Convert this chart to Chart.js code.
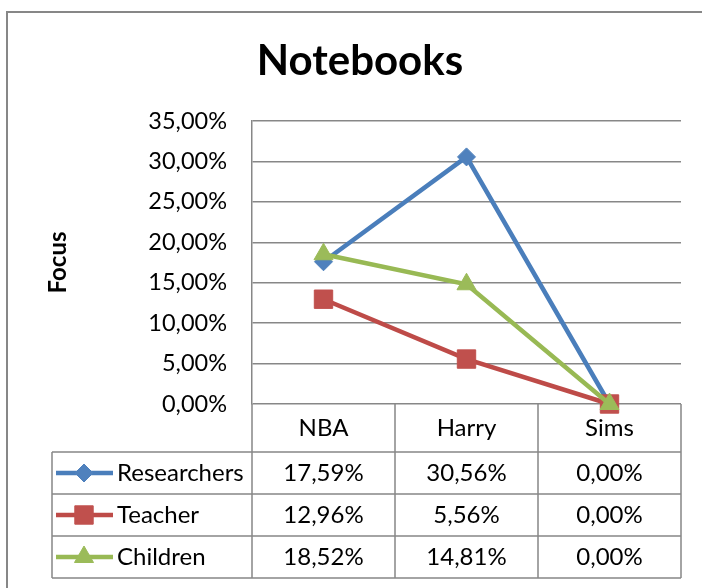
<!DOCTYPE html>
<html>
<head>
<meta charset="utf-8">
<script src="https://cdn.jsdelivr.net/npm/chart.js@4/dist/chart.umd.min.js"></script>
<style>
  html, body { margin: 0; padding: 0; background: #fff; }
  #wrap { width: 702px; height: 588px; }
</style>
</head>
<body>
<div id="wrap"><canvas id="myChart"></canvas></div>
<script>
const categories = ["NBA", "Harry", "Sims"];
const seriesNames = ["Researchers", "Teacher", "Children"];
const researchers = [0.1759, 0.3056, 0.0];
const teacher = [0.1296, 0.0556, 0.0];
const children = [0.1852, 0.1481, 0.0];
const yMin = 0;
const yMax = 0.35;
const yStep = 0.05;

const FONT = 'Lato, "Liberation Sans", sans-serif';
const GRID = "#878787";

function pct(v) {
  return (v * 100).toFixed(2).replace(".", ",") + "%";
}

const styles = [
  { line: "#4A7EBB", fill: "#4F81BD", point: "rectRot", radius: 9 },
  { line: "#BE4B48", fill: "#C0504D", point: "rect", radius: 13 },
  { line: "#98B954", fill: "#9BBB59", point: "triangle", radius: 11 },
];
const values = [researchers, teacher, children];

const datasets = seriesNames.map((name, i) => ({
  label: name,
  data: values[i],
  borderColor: styles[i].line,
  backgroundColor: styles[i].fill,
  borderWidth: 4.5,
  pointStyle: styles[i].point,
  pointRadius: styles[i].radius,
  pointBackgroundColor: styles[i].fill,
  pointBorderColor: styles[i].fill,
  pointBorderWidth: 1,
  tension: 0,
  clip: false,
  order: seriesNames.length - i,
}));

// draws the outer frame, title and the data table under the plot
const tablePlugin = {
  id: "dataTable",
  beforeDraw(chart) {
    const ctx = chart.ctx;
    ctx.save();
    ctx.fillStyle = "#fff";
    ctx.fillRect(0, 0, chart.width, chart.height);
    ctx.strokeStyle = GRID;
    ctx.lineWidth = 2;
    ctx.strokeRect(7, 12, 900, 900);
    ctx.restore();
  },
  afterDraw(chart) {
    const ctx = chart.ctx;
    const { left, right, bottom } = chart.chartArea;
    const xs = chart.scales.x;
    const centers = categories.map((c, i) => xs.getPixelForValue(i));
    const edges = [left];
    for (let i = 1; i < centers.length; i++) edges.push((centers[i - 1] + centers[i]) / 2);
    edges.push(right);

    const headH = 48;
    const rowH = 42;
    const tableLeft = 52;
    const headBottom = bottom + headH;
    const tableBottom = headBottom + rowH * seriesNames.length;

    ctx.save();
    // title
    ctx.fillStyle = "#000";
    ctx.font = "bold 42px " + FONT;
    ctx.textAlign = "center";
    ctx.textBaseline = "middle";
    ctx.fillText("Notebooks", 360, 61);

    // grid of the table
    ctx.strokeStyle = GRID;
    ctx.lineWidth = 1.5;
    ctx.beginPath();
    edges.forEach((x) => {
      ctx.moveTo(x, bottom);
      ctx.lineTo(x, tableBottom);
    });
    ctx.moveTo(tableLeft, headBottom);
    ctx.lineTo(tableLeft, tableBottom);
    for (let r = 0; r <= seriesNames.length; r++) {
      const y = headBottom + r * rowH;
      ctx.moveTo(tableLeft, y);
      ctx.lineTo(right, y);
    }
    ctx.stroke();

    // header
    ctx.fillStyle = "#000";
    ctx.font = "24px " + FONT;
    categories.forEach((c, i) => ctx.fillText(c, centers[i], bottom + headH / 2));

    // rows
    seriesNames.forEach((name, r) => {
      const cy = headBottom + r * rowH + rowH / 2;
      const st = styles[r];
      ctx.strokeStyle = st.line;
      ctx.lineWidth = 4.5;
      ctx.beginPath();
      ctx.moveTo(tableLeft + 4, cy);
      ctx.lineTo(tableLeft + 61, cy);
      ctx.stroke();
      ctx.fillStyle = st.fill;
      ctx.strokeStyle = st.fill;
      ctx.lineWidth = 1;
      Chart.helpers.drawPoint(ctx, { pointStyle: st.point, radius: st.radius, rotation: 0, borderWidth: 1 }, tableLeft + 32, cy);

      ctx.fillStyle = "#000";
      ctx.textAlign = "left";
      ctx.fillText(name, tableLeft + 65, cy);
      ctx.textAlign = "center";
      values[r].forEach((v, i) => ctx.fillText(pct(v), centers[i], cy));
    });
    ctx.restore();
  },
};

const ctx = document.getElementById("myChart").getContext("2d");

const config = {
  type: "line",
  data: { labels: categories, datasets: datasets },
  options: {
    responsive: true,
    maintainAspectRatio: false,
    animation: false,
    layout: { padding: { left: 0, top: 121, right: 21, bottom: 184 } },
    plugins: {
      legend: { display: false },
      title: { display: false },
      tooltip: { enabled: false },
    },
    scales: {
      x: {
        display: false,
        offset: true,
      },
      y: {
        min: yMin,
        max: yMax,
        ticks: {
          stepSize: yStep,
          padding: 25,
          color: "#000",
          font: { family: FONT, size: 23.5 },
          callback: (v) => pct(v),
        },
        grid: { color: GRID, lineWidth: 1.5, drawTicks: false },
        border: { color: GRID, width: 1.5 },
        title: {
          display: true,
          text: "Focus",
          color: "#000",
          font: { family: FONT, size: 24, weight: "bold" },
          padding: { top: 44, bottom: 0 },
        },
        afterFit(scale) {
          scale.width = 252;
        },
      },
    },
  },
  plugins: [tablePlugin],
};

const myChart = new Chart(ctx, config);
</script>
</body>
</html>
